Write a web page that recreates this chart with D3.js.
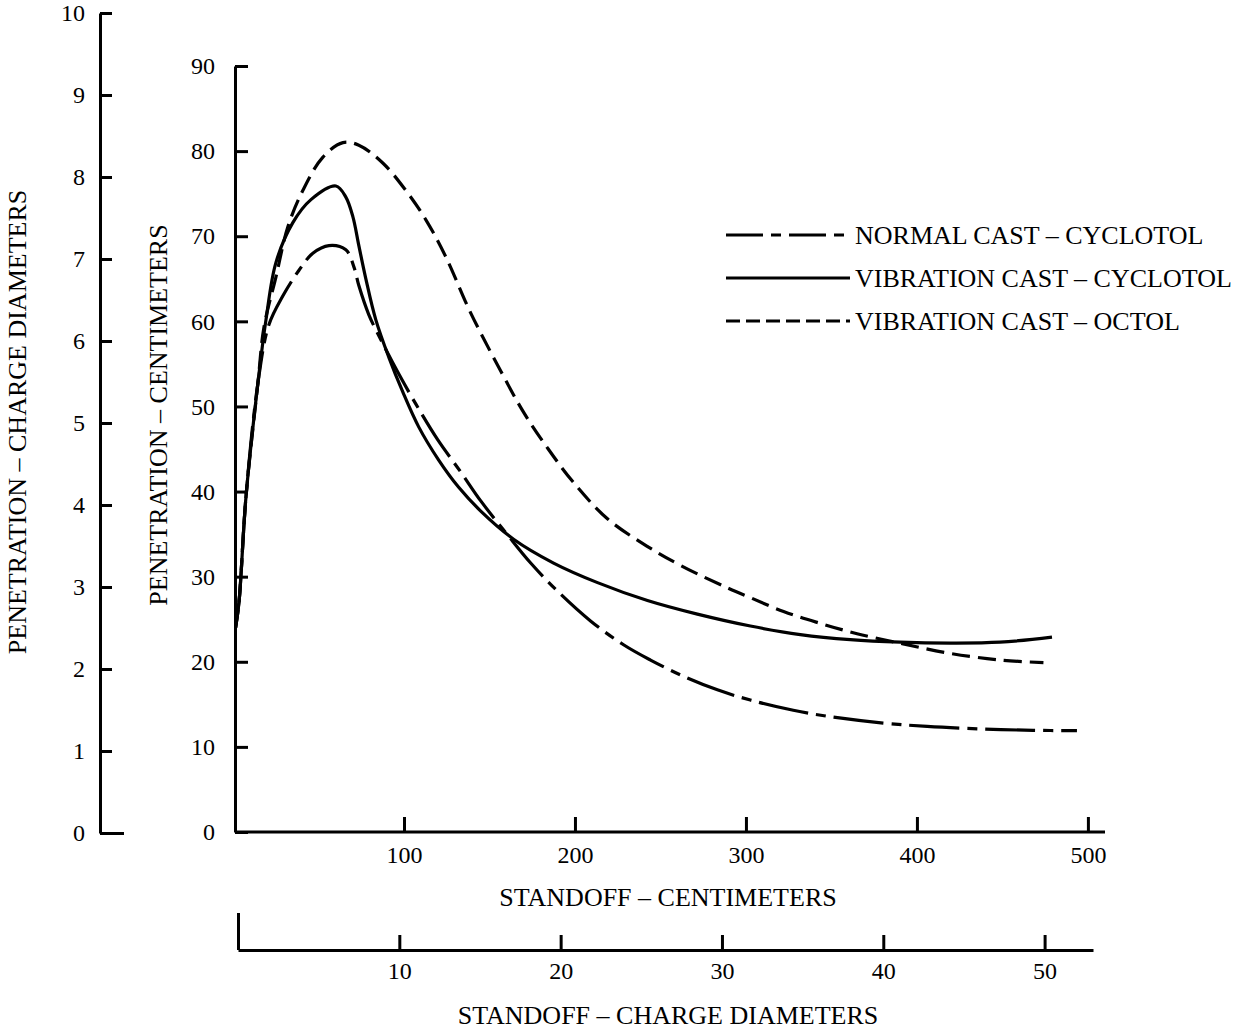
<!DOCTYPE html>
<html>
<head>
<meta charset="utf-8">
<script src="https://cdn.jsdelivr.net/npm/d3@7"></script>
<style>
  body { margin: 0; background: #fff; }
  svg { font-family: "Liberation Serif", "Times New Roman", serif; }
  .axis path, .axis line { stroke: #000; stroke-width: 3; }
  .axis text { font-size: 24px; fill: #000; font-family: "Liberation Serif", serif; }
  .title { font-size: 26px; fill: #000; }
  .curve { fill: none; stroke: #000; stroke-width: 3.2; stroke-linecap: butt; }
</style>
</head>
<body>
<div class="chart"></div>
<script>
// Standoff (cm) and penetration (cm)
const normalX = [1.5, 3.5, 7.6, 14.6, 21, 29.2, 38.6, 46.7, 56.1, 66, 70.7, 73.6, 79.4, 87.6, 97, 106.9, 119.7, 133.2, 144.9, 160.6, 174.1, 189.8, 209.1, 228.4, 244.2, 263.4, 283.3, 302.6, 327.7, 347.5, 380.3, 406, 438.7, 467.9, 493.6];
const normalY = [24, 27, 39.4, 52.8, 59.6, 63, 66, 68, 68.9, 68.4, 66.4, 64.2, 60.8, 57.4, 53.8, 50.3, 46.1, 42.3, 38.9, 34.9, 31.6, 28.3, 24.8, 22, 20.2, 18.3, 16.7, 15.5, 14.3, 13.6, 12.8, 12.4, 12.1, 11.95, 11.9];

const vibCycX = [1.5, 3.5, 7.6, 14.6, 19.3, 25.1, 35, 45.6, 60.2, 66, 70.1, 73.6, 77.7, 83.5, 91.1, 99.3, 108.6, 120.3, 132, 144.9, 164.1, 187.5, 213.2, 242.4, 271.6, 302.6, 331.8, 361, 390.2, 419.4, 448.6, 479];
const vibCycY = [24, 27, 39.4, 52.8, 60.2, 66.9, 71.6, 74.3, 75.9, 74.6, 72.3, 68.9, 65, 60.2, 55.8, 51.7, 47.6, 43.7, 40.5, 37.7, 34.4, 31.6, 29.3, 27.2, 25.6, 24.2, 23.2, 22.6, 22.3, 22.2, 22.3, 22.9];

const vibOctX = [1.5, 3.5, 7.6, 14.6, 18.1, 25.1, 32.1, 40.9, 52.6, 64.3, 73.6, 87.6, 101, 112.9, 124.4, 139, 156.5, 170, 184, 199, 219, 242, 262, 289, 303, 322, 342, 365, 392, 419, 449, 474];
const vibOctY = [24, 27, 39.4, 52.8, 59.3, 65.2, 71.1, 75.4, 79.3, 81, 80.7, 78.6, 75.4, 71.9, 67.6, 61, 54.2, 49.3, 45.1, 41.1, 36.8, 33.6, 31.3, 28.7, 27.5, 25.9, 24.6, 23.3, 22.1, 21, 20.2, 19.9];

const seriesNames = ["NORMAL CAST \u2013 CYCLOTOL", "VIBRATION CAST \u2013 CYCLOTOL", "VIBRATION CAST \u2013 OCTOL"];
const seriesDash = ["50,8,10,8", null, "18,8"];

const cmTicks = [100, 200, 300, 400, 500];
const penTicks = [0, 10, 20, 30, 40, 50, 60, 70, 80, 90];
const diamPenTicks = [0, 1, 2, 3, 4, 5, 6, 7, 8, 9, 10];
const diamStandTicks = [0, 10, 20, 30, 40, 50];

const W = 1236, H = 1029;

const svg = d3.select(".chart").append("svg")
  .attr("width", W)
  .attr("height", H);

// scales
const x = d3.scaleLinear().domain([0, 510]).range([233, 1105]);
const y = d3.scaleLinear().domain([0, 90]).range([832, 66]);
const yDiam = d3.scaleLinear().domain([0, 10]).range([833, 13]);
const xDiam = d3.scaleLinear().domain([0, 53]).range([238, 1093]);

// main x axis (cm)
svg.append("g")
  .attr("class", "axis")
  .attr("transform", "translate(0,832)")
  .call(d3.axisBottom(x).tickValues(cmTicks).tickSizeInner(-15).tickSizeOuter(0).tickPadding(14))
  .call(g => g.select(".domain").attr("d", "M235,0H" + x.range()[1]));

// main y axis (cm)
svg.append("g")
  .attr("class", "axis")
  .attr("transform", "translate(235,0)")
  .call(d3.axisLeft(y).tickValues(penTicks).tickSizeInner(-13).tickSizeOuter(0).tickPadding(20));

// left y axis (charge diameters)
svg.append("g")
  .attr("class", "axis")
  .attr("transform", "translate(100,0)")
  .call(d3.axisLeft(yDiam).tickValues(diamPenTicks).tickSizeInner(-12).tickSizeOuter(0).tickPadding(15))
  .call(g => g.selectAll(".tick").filter(d => d === 0).select("line").attr("x2", 24));

// bottom x axis (charge diameters)
svg.append("g")
  .attr("class", "axis")
  .attr("transform", "translate(0,950)")
  .call(d3.axisBottom(xDiam).tickValues(diamStandTicks).tickSizeInner(-15).tickSizeOuter(0).tickPadding(12)
    .tickFormat(d => d === 0 ? "" : d))
  .call(g => g.selectAll(".tick").filter(d => d === 0).select("line").attr("y2", -37));

// curves
const line = d3.line()
  .x(d => x(d[0]))
  .y(d => y(d[1]))
  .curve(d3.curveCatmullRom.alpha(0.5));

const series = [
  d3.zip(normalX, normalY),
  d3.zip(vibCycX, vibCycY),
  d3.zip(vibOctX, vibOctY)
];

series.forEach((pts, i) => {
  svg.append("path")
    .attr("class", "curve")
    .attr("d", line(pts))
    .attr("stroke-dasharray", seriesDash[i]);
});

// legend
const legend = svg.append("g").attr("transform", "translate(726,235)");
const item = legend.selectAll("g")
  .data(seriesNames)
  .enter()
  .append("g")
  .attr("transform", (d, i) => "translate(0," + i * 43 + ")");

item.append("line")
  .attr("class", "curve")
  .attr("x1", 0).attr("x2", 124)
  .attr("y1", 0).attr("y2", 0)
  .attr("stroke-dasharray", (d, i) => i === 0 ? "37,8,10,8" : (i === 2 ? "14,6" : null));

item.append("text")
  .attr("class", "title")
  .attr("x", 129)
  .attr("y", 0)
  .attr("dy", "0.35em")
  .text(d => d);

// axis titles
svg.append("text")
  .attr("class", "title")
  .attr("text-anchor", "middle")
  .attr("x", 668).attr("y", 906)
  .text("STANDOFF \u2013 CENTIMETERS");

svg.append("text")
  .attr("class", "title")
  .attr("text-anchor", "middle")
  .attr("x", 668).attr("y", 1024)
  .text("STANDOFF \u2013 CHARGE DIAMETERS");

svg.append("text")
  .attr("class", "title")
  .attr("text-anchor", "middle")
  .attr("transform", "translate(26,422) rotate(-90)")
  .text("PENETRATION \u2013 CHARGE DIAMETERS");

svg.append("text")
  .attr("class", "title")
  .attr("text-anchor", "middle")
  .attr("transform", "translate(167,415) rotate(-90)")
  .text("PENETRATION \u2013 CENTIMETERS");
</script>
</body>
</html>
